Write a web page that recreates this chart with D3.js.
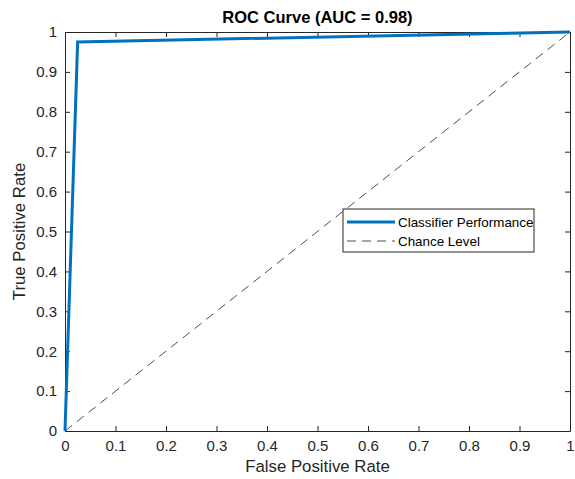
<!DOCTYPE html>
<html>
<head>
<meta charset="utf-8">
<script src="https://cdn.jsdelivr.net/npm/d3@7"></script>
<style>
  body { margin: 0; background: #fff; }
  text { font-family: "Liberation Sans", Arial, sans-serif; }
</style>
</head>
<body>
<div id="chart"></div>
<script>
const fpr = [0, 0.025, 1];
const tpr = [0, 0.975, 1];
const chanceX = [0, 1];
const chanceY = [0, 1];
const ticks = [0, 0.1, 0.2, 0.3, 0.4, 0.5, 0.6, 0.7, 0.8, 0.9, 1];
const seriesNames = ["Classifier Performance", "Chance Level"];

const W = 575, H = 479;
const margin = {top: 32, right: 5, bottom: 48, left: 65},
      width = W - margin.left - margin.right,
      height = H - margin.top - margin.bottom;

const svg = d3.select("#chart")
              .append("svg")
              .attr("width", W)
              .attr("height", H)
              .append("g")
              .attr("transform", `translate(${margin.left},${margin.top})`);

const x = d3.scaleLinear().domain([0, 1]).range([0, width]);
const y = d3.scaleLinear().domain([0, 1]).range([height, 0]);

const fmt = d => d3.format("~g")(d);

function styleAxis(g) {
  g.select(".domain").attr("stroke", "#262626");
  g.selectAll(".tick line").attr("stroke", "#262626");
  g.selectAll(".tick text").attr("fill", "#262626").style("font-size", "15px");
}

svg.append("g")
   .attr("transform", `translate(0,${height})`)
   .call(d3.axisBottom(x).tickValues(ticks).tickFormat(fmt).tickSizeInner(-5).tickSizeOuter(0).tickPadding(9))
   .call(styleAxis);

svg.append("g")
   .call(d3.axisLeft(y).tickValues(ticks).tickFormat(fmt).tickSizeInner(-5).tickSizeOuter(0).tickPadding(8))
   .call(styleAxis);

svg.append("g")
   .call(d3.axisTop(x).tickValues(ticks).tickFormat("").tickSizeInner(-5).tickSizeOuter(0))
   .call(styleAxis);

svg.append("g")
   .attr("transform", `translate(${width},0)`)
   .call(d3.axisRight(y).tickValues(ticks).tickFormat("").tickSizeInner(-5).tickSizeOuter(0))
   .call(styleAxis);

const line = d3.line().x(d => x(d[0])).y(d => y(d[1]));

svg.append("path")
   .datum(d3.zip(chanceX, chanceY))
   .attr("d", line)
   .attr("fill", "none")
   .attr("stroke", "#222")
   .attr("stroke-width", 0.8)
   .attr("stroke-dasharray", "9,6");

svg.append("path")
   .datum(d3.zip(fpr, tpr))
   .attr("d", line)
   .attr("fill", "none")
   .attr("stroke", "#0072BD")
   .attr("stroke-width", 3)
   .attr("stroke-linejoin", "miter");

// title and axis labels
svg.append("text")
   .attr("x", width / 2)
   .attr("y", -9)
   .attr("text-anchor", "middle")
   .style("font-size", "16.5px")
   .style("font-weight", "bold")
   .attr("fill", "#000")
   .text("ROC Curve (AUC = 0.98)");

svg.append("text")
   .attr("x", width / 2)
   .attr("y", height + 41)
   .attr("text-anchor", "middle")
   .style("font-size", "16.8px")
   .attr("fill", "#262626")
   .text("False Positive Rate");

svg.append("text")
   .attr("transform", `translate(${-40},${height / 2}) rotate(-90)`)
   .attr("text-anchor", "middle")
   .style("font-size", "16.8px")
   .attr("fill", "#262626")
   .text("True Positive Rate");

// legend
const legend = svg.append("g").attr("transform", `translate(${343 - margin.left},${209 - margin.top})`);
legend.append("rect")
      .attr("width", 191).attr("height", 43)
      .attr("fill", "#fff").attr("stroke", "#262626").attr("stroke-width", 1);

const legendStyles = [
  {stroke: "#0072BD", width: 3, dash: null},
  {stroke: "#222", width: 0.8, dash: "9,6"}
];
seriesNames.forEach((name, i) => {
  const ly = 13 + i * 19;
  legend.append("line")
        .attr("x1", 4).attr("x2", 52).attr("y1", ly).attr("y2", ly)
        .attr("stroke", legendStyles[i].stroke)
        .attr("stroke-width", legendStyles[i].width)
        .attr("stroke-dasharray", legendStyles[i].dash);
  legend.append("text")
        .attr("x", 55).attr("y", ly + 5)
        .style("font-size", "13.4px")
        .attr("fill", "#000")
        .text(name);
});
</script>
</body>
</html>
